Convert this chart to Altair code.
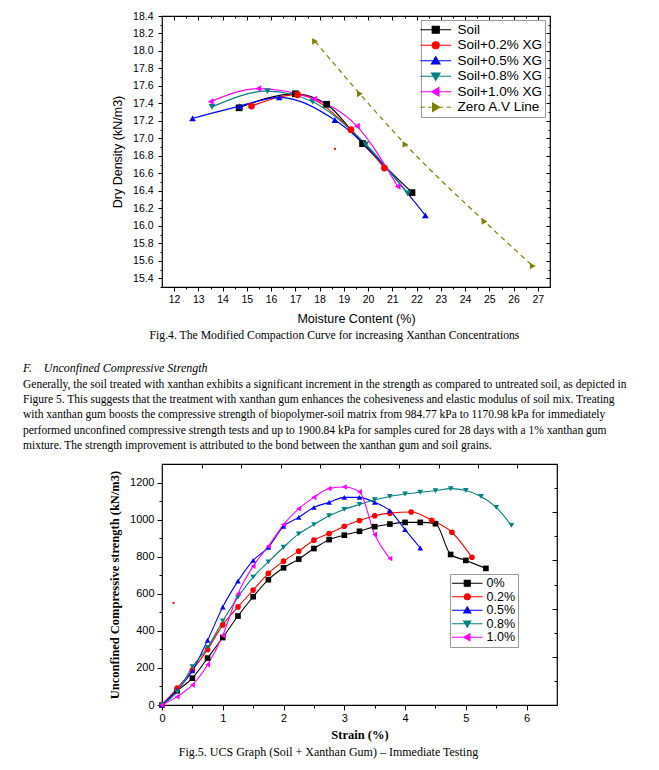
import altair as alt
import pandas as pd

# ---------------- Fig.4 : modified compaction curves ----------------
fig4_series = ["Soil", "Soil+0.2% XG", "Soil+0.5% XG", "Soil+0.8% XG", "Soil+1.0% XG", "Zero A.V Line"]
soil_mc = [14.68, 17.00, 18.29, 19.77, 21.81]
soil_dd = [17.35, 17.51, 17.39, 16.94, 16.38]
xg02_mc = [15.19, 17.09, 19.29, 20.67]
xg02_dd = [17.37, 17.50, 17.10, 16.66]
xg05_mc = [12.76, 14.71, 16.33, 18.63, 22.36]
xg05_dd = [17.23, 17.37, 17.47, 17.21, 16.12]
xg08_mc = [13.56, 15.85, 17.71, 19.91, 21.63]
xg08_dd = [17.36, 17.54, 17.42, 16.93, 16.37]
xg10_mc = [13.51, 15.47, 17.78, 19.54, 21.22]
xg10_dd = [17.42, 17.57, 17.45, 17.14, 16.45]
zav_mc = [17.81, 19.66, 21.54, 24.80, 26.79]
zav_dd = [18.11, 17.51, 16.93, 16.05, 15.54]
speck4_mc = [18.63]
speck4_dd = [16.88]

fig4_x_ticks = [12, 13, 14, 15, 16, 17, 18, 19, 20, 21, 22, 23, 24, 25, 26, 27]
fig4_x_minor = [12.5, 13.5, 14.5, 15.5, 16.5, 17.5, 18.5, 19.5, 20.5, 21.5, 22.5, 23.5, 24.5, 25.5, 26.5]
fig4_y_ticks = [15.4, 15.6, 15.8, 16.0, 16.2, 16.4, 16.6, 16.8, 17.0, 17.2, 17.4, 17.6, 17.8, 18.0, 18.2, 18.4]
fig4_y_minor = [15.3, 15.5, 15.7, 15.9, 16.1, 16.3, 16.5, 16.7, 16.9, 17.1, 17.3, 17.5, 17.7, 17.9, 18.1, 18.3]

# ---------------- Fig.5 : UCS, immediate testing ----------------
fig5_series = ["0%", "0.2%", "0.5%", "0.8%", "1.0%"]
strain_00 = [0, 0.25, 0.5, 0.75, 1.0, 1.25, 1.5, 1.75, 2.0, 2.25, 2.5, 2.75, 3.0, 3.25, 3.5, 3.75, 4.0, 4.25, 4.5, 4.75, 5.0, 5.33]
ucs_00 = [0, 77, 145, 253, 364, 480, 584, 676, 740, 787, 844, 892, 916, 937, 962, 976, 985, 985, 978, 812, 780, 737]
strain_02 = [0, 0.25, 0.5, 0.75, 1.0, 1.25, 1.5, 1.75, 2.0, 2.25, 2.5, 2.75, 3.0, 3.25, 3.5, 3.75, 4.1, 4.44, 4.77, 5.1]
ucs_02 = [0, 91, 188, 300, 432, 529, 620, 710, 776, 830, 889, 925, 964, 995, 1021, 1035, 1041, 996, 932, 797]
strain_05 = [0, 0.25, 0.5, 0.75, 1.0, 1.25, 1.5, 1.75, 2.0, 2.25, 2.5, 2.75, 3.0, 3.25, 3.5, 3.75, 4.0, 4.25]
ucs_05 = [0, 80, 185, 349, 529, 668, 780, 851, 964, 1012, 1066, 1093, 1120, 1120, 1093, 1048, 946, 847]
strain_08 = [0, 0.25, 0.5, 0.75, 1.0, 1.25, 1.5, 1.75, 2.0, 2.25, 2.5, 2.75, 3.0, 3.25, 3.5, 3.75, 4.0, 4.25, 4.5, 4.75, 5.0, 5.25, 5.5, 5.75]
ucs_08 = [0, 70, 206, 310, 453, 582, 690, 772, 851, 923, 973, 1021, 1055, 1082, 1107, 1125, 1138, 1148, 1156, 1167, 1157, 1125, 1066, 969]
strain_10 = [0, 0.25, 0.5, 0.75, 1.0, 1.25, 1.5, 1.75, 2.0, 2.25, 2.5, 2.75, 3.0, 3.25, 3.5, 3.75]
ucs_10 = [0, 45, 108, 217, 375, 600, 749, 857, 973, 1059, 1120, 1168, 1176, 1150, 920, 790]
speck5_strain = [0.19]
speck5_ucs = [551]

fig5_x_ticks = [0, 1, 2, 3, 4, 5, 6]
fig5_x_minor = [0.5, 1.5, 2.5, 3.5, 4.5, 5.5]
fig5_y_ticks = [0, 200, 400, 600, 800, 1000, 1200]
fig5_y_minor = [100, 300, 500, 700, 900, 1100]
fig5_top_ticks = [0.65, 1.3, 1.95, 2.6, 3.25, 3.9, 4.55, 5.2, 5.85]
fig5_right_major = [260, 520, 780, 1040]
fig5_right_minor = [130, 390, 650, 910, 1170]

# ---------------- text ----------------
caption4 = "Fig.4. The Modified Compaction Curve for increasing Xanthan Concentrations"
heading = "F.\u2003Unconfined Compressive Strength"
paragraph = [
    "Generally, the soil treated with xanthan exhibits a significant increment in the strength as compared to untreated soil, as depicted in",
    "Figure 5. This suggests that the treatment with xanthan gum enhances the cohesiveness and elastic modulus of soil mix. Treating",
    "with xanthan gum boosts the compressive strength of biopolymer-soil matrix from 984.77 kPa to 1170.98 kPa for immediately",
    "performed unconfined compressive strength tests and up to 1900.84 kPa for samples cured for 28 days with a 1% xanthan gum",
    "mixture. The strength improvement is attributed to the bond between the xanthan gum and soil grains.",
]
caption5 = "Fig.5. UCS Graph (Soil + Xanthan Gum) \u2013 Immediate Testing"

# ---------------- styles ----------------
SANS = "Liberation Sans"
SERIF = "Liberation Serif"
colors4 = ["#000000", "#ff0000", "#0000ff", "#008080", "#ff00ff", "#808000"]
colors5 = colors4[:5]
shapes = ["square", "circle", "triangle-up", "triangle-down", "triangle-left", "triangle-right"]

MARKS = {
    "square": "M-1,-1H1V1H-1Z",
    "circle": "M-1,0A1,1,0,1,0,1,0A1,1,0,1,0,-1,0Z",
    "triangle-up": "M0,-1.15L1.2,0.9H-1.2Z",
    "triangle-down": "M0,1.15L1.2,-0.9H-1.2Z",
    "triangle-left": "M-1.15,0L0.9,-1.2V1.2Z",
    "triangle-right": "M1.15,0L-0.9,-1.2V1.2Z",
}


def legend_path(shape, half, dashed=False):
    if dashed:
        line = f"M{-half},0H{-half + 1.3}M{-half + 2.3},0H{-1.2}M1.2,0H{half - 2.3}M{half - 1.3},0H{half}"
    else:
        line = f"M{-half},0H{half}"
    return line + MARKS[shape]


def long_df(names, xs_list, ys_list):
    rows = []
    for name, xs, ys in zip(names, xs_list, ys_list):
        for xv, yv in zip(xs, ys):
            rows.append({"series": name, "x": xv, "y": yv})
    return pd.DataFrame(rows)


def axis(orient, values=None, size=0, offset=0, labels=False, title=None, **kw):
    p = dict(orient=orient, offset=offset, domain=False, grid=False, labels=labels,
             ticks=size > 0, tickSize=size if size > 0 else 1, tickColor="black", tickWidth=1,
             title=title, labelFlush=False, labelOverlap=False, minExtent=0)
    if values is not None:
        p["values"] = values
    p.update(kw)
    return alt.Axis(**p)


RESOLVE_SCALES = dict(shape="independent", fill="independent", stroke="independent")

# ================= Fig.4 chart =================
df4_curves = long_df(fig4_series[:5], [soil_mc, xg02_mc, xg05_mc, xg08_mc, xg10_mc],
                     [soil_dd, xg02_dd, xg05_dd, xg08_dd, xg10_dd])
df4_zav = long_df(fig4_series[5:], [zav_mc], [zav_dd])
df4_all = pd.concat([df4_curves, df4_zav], ignore_index=True)
df4_speck = pd.DataFrame({"x": speck4_mc, "y": speck4_dd})

X4 = alt.Scale(domain=[11.5, 27.5], nice=False, zero=False)
Y4 = alt.Scale(domain=[15.3, 18.4], nice=False, zero=False)
C4 = alt.Scale(domain=fig4_series, range=colors4)
S4 = alt.Scale(domain=fig4_series, range=shapes)
L4 = alt.Scale(domain=fig4_series,
               range=[legend_path(s, 4.4, dashed=(i == 5)) for i, s in enumerate(shapes)])

lab4 = dict(labelFont=SANS, labelFontSize=10.5, labelColor="black")
ax4_x = axis("bottom", fig4_x_ticks, 4, labels=True, format="d", labelPadding=3, **lab4,
             title="Moisture Content (%)", titleFont=SANS, titleFontSize=12.5,
             titleFontWeight="normal", titleColor="black", titlePadding=8)
ax4_y = axis("left", fig4_y_ticks, 4, labels=True, format=".1f", labelPadding=5, **lab4,
             title="Dry Density (kN/m3)", titleFont=SANS, titleFontSize=12.5,
             titleFontWeight="normal", titleColor="black", titlePadding=8)
ax4_cap = axis("bottom", [], 0, title=caption4, titleFont=SERIF, titleFontSize=11.7,
               titleFontWeight="normal", titleColor="black", titlePadding=42,
               titleX=172, titleAlign="center")

leg4 = alt.Legend(title=None, orient="none", legendX=259, legendY=4, symbolSize=49,
                  symbolStrokeWidth=1.2, symbolOffset=5, labelOffset=15,
                  labelFont=SANS, labelFontSize=13.5, labelColor="black",
                  padding=3, rowPadding=0.5, strokeColor="#9a9a9a", fillColor="white")

curves4 = alt.Chart(df4_curves).mark_line(interpolate="monotone", strokeWidth=1.2).encode(
    x=alt.X("x:Q", scale=X4, axis=ax4_x),
    y=alt.Y("y:Q", scale=Y4, axis=ax4_y),
    color=alt.Color("series:N", scale=C4, legend=None),
)
zav4 = alt.Chart(df4_zav).mark_line(interpolate="monotone", strokeWidth=1.2, color="#808000",
                                    strokeDash=[5, 4]).encode(
    x=alt.X("x:Q", scale=X4, axis=axis("bottom", fig4_x_minor, 2)),
    y=alt.Y("y:Q", scale=Y4, axis=axis("left", fig4_y_minor, 2)),
)
points4 = alt.Chart(df4_all).mark_point(filled=True, size=45, opacity=1).encode(
    x=alt.X("x:Q", scale=X4, axis=axis("top", fig4_x_ticks, 4, offset=-4)),
    y=alt.Y("y:Q", scale=Y4, axis=axis("right", fig4_y_ticks, 4, offset=-4)),
    color=alt.Color("series:N", scale=C4, legend=None),
    shape=alt.Shape("series:N", scale=S4, legend=None),
)
legend4 = alt.Chart(df4_all).transform_filter("false").mark_point(opacity=1).encode(
    x=alt.X("x:Q", scale=X4, axis=axis("top", fig4_x_minor, 2, offset=-2)),
    y=alt.Y("y:Q", scale=Y4, axis=axis("right", fig4_y_minor, 2, offset=-2)),
    fill=alt.Fill("series:N", scale=C4, legend=leg4),
    stroke=alt.Stroke("series:N", scale=C4, legend=leg4),
    shape=alt.Shape("series:N", scale=L4, legend=leg4),
)
speck4 = alt.Chart(df4_speck).mark_square(size=4, color="red", opacity=1).encode(
    x=alt.X("x:Q", scale=X4, axis=ax4_cap),
    y=alt.Y("y:Q", scale=Y4, axis=None),
)

chart4 = alt.layer(curves4, zav4, points4, legend4, speck4).resolve_axis(
    x="independent", y="independent").resolve_scale(**RESOLVE_SCALES).properties(
    width=388, height=271)

# ================= Fig.5 chart =================
df5 = long_df(fig5_series, [strain_00, strain_02, strain_05, strain_08, strain_10],
              [ucs_00, ucs_02, ucs_05, ucs_08, ucs_10])
df5_speck = pd.DataFrame({"x": speck5_strain, "y": speck5_ucs})

X5 = alt.Scale(domain=[0, 6.5], nice=False, zero=False)
Y5 = alt.Scale(domain=[0, 1300], nice=False, zero=False)
C5 = alt.Scale(domain=fig5_series, range=colors5)
S5 = alt.Scale(domain=fig5_series, range=shapes[:5])
L5 = alt.Scale(domain=fig5_series, range=[legend_path(s, 5.1) for s in shapes[:5]])

lab5 = dict(labelFont=SANS, labelFontSize=11, labelColor="black")
ax5_x = axis("bottom", fig5_x_ticks, 5, labels=True, format="d", labelPadding=2, **lab5,
             title="Strain (%)", titleFont=SERIF, titleFontSize=12.5, titleFontWeight="bold",
             titleColor="black", titlePadding=5)
ax5_y = axis("left", fig5_y_ticks, 5, labels=True, format="d", labelPadding=3, **lab5,
             title="Unconfined Compressive strength (kN/m3)", titleFont=SERIF, titleFontSize=12.5,
             titleFontWeight="bold", titleColor="black", titlePadding=8)
ax5_cap = axis("bottom", [], 0, title=caption5, titleFont=SERIF, titleFontSize=12,
               titleFontWeight="normal", titleColor="black", titlePadding=41,
               titleX=166, titleAlign="center")

leg5 = alt.Legend(title=None, orient="none", legendX=288, legendY=110, symbolSize=36,
                  symbolStrokeWidth=1.1, symbolOffset=8, labelOffset=13,
                  labelFont=SANS, labelFontSize=12.5, labelColor="black",
                  padding=3, rowPadding=0.5, strokeColor="#9a9a9a", fillColor="white")

curves5 = alt.Chart(df5).mark_line(interpolate="monotone", strokeWidth=1.1).encode(
    x=alt.X("x:Q", scale=X5, axis=ax5_x),
    y=alt.Y("y:Q", scale=Y5, axis=ax5_y),
    color=alt.Color("series:N", scale=C5, legend=None),
)
points5 = alt.Chart(df5).mark_point(filled=True, size=32, opacity=1).encode(
    x=alt.X("x:Q", scale=X5, axis=axis("bottom", fig5_x_minor, 3)),
    y=alt.Y("y:Q", scale=Y5, axis=axis("left", fig5_y_minor, 3)),
    color=alt.Color("series:N", scale=C5, legend=None),
    shape=alt.Shape("series:N", scale=S5, legend=None),
)
legend5 = alt.Chart(df5).transform_filter("false").mark_point(opacity=1).encode(
    x=alt.X("x:Q", scale=X5, axis=axis("top", fig5_top_ticks, 4, offset=-4)),
    y=alt.Y("y:Q", scale=Y5, axis=axis("right", fig5_right_major, 5, offset=-5)),
    fill=alt.Fill("series:N", scale=C5, legend=leg5),
    stroke=alt.Stroke("series:N", scale=C5, legend=leg5),
    shape=alt.Shape("series:N", scale=L5, legend=leg5),
)
speck5 = alt.Chart(df5_speck).mark_square(size=4, color="red", opacity=1).encode(
    x=alt.X("x:Q", scale=X5, axis=ax5_cap),
    y=alt.Y("y:Q", scale=Y5, axis=axis("right", fig5_right_minor, 3, offset=-3)),
)

chart5 = alt.layer(curves5, points5, legend5, speck5).resolve_axis(
    x="independent", y="independent").resolve_scale(**RESOLVE_SCALES).properties(
    width=395, height=241,
    title=alt.TitleParams(
        text=heading, subtitle=paragraph, orient="top", anchor="start", frame="group",
        dx=-139, offset=11, font=SERIF, fontSize=12, fontStyle="italic",
        fontWeight="normal", color="black", subtitleFont=SERIF, subtitleFontSize=11.5,
        subtitleFontStyle="normal", subtitleColor="black", subtitleLineHeight=15.3,
        subtitlePadding=4),
)

chart = alt.vconcat(chart4, chart5, spacing=177, bounds="flush").properties(
    padding={"left": 14, "top": 2, "right": 4, "bottom": 4}
).configure_view(stroke="black", strokeWidth=1.2)

chart.save("out.html", embed_options={"renderer": "svg", "actions": False})
